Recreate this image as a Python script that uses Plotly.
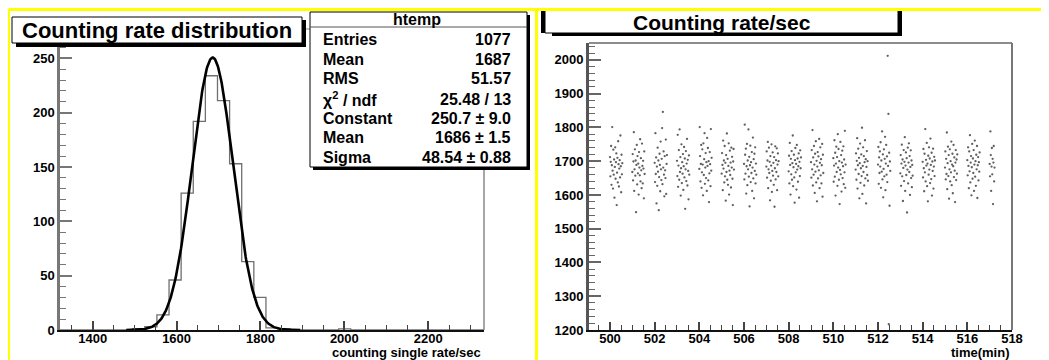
import numpy as np
import plotly.graph_objects as go

# page body has an 8px default margin: the figure is sized/offset to compensate
OFF = 8
W, H = 1049 - OFF, 360 - OFF

# ---------------- Left panel: histogram of counting rate ----------------
hist_x_min = 1322
hist_x_max = 2333
bin_counts = [0, 0, 0, 0, 0, 0, 1, 3, 14, 46, 126, 192, 234, 211, 153, 63, 30, 2, 1,
              0, 0, 0, 0, 1, 0, 0, 0, 0, 0, 0, 0, 0, 0, 0, 0]
left_x_ticks = [1400, 1600, 1800, 2000, 2200]
left_y_ticks = [0, 50, 100, 150, 200, 250]

# fit results shown in the stats box
fit_constant = 250.7
fit_mean = 1686
fit_sigma = 48.54
fit_range = [1480, 1895]

stats_labels = ["Entries", "Mean", "RMS", "χ<sup>2</sup> / ndf", "Constant", "Mean", "Sigma"]
stats_values = ["1077", "1687", "51.57", "25.48 / 13", "250.7 ± 9.0", "1686 ± 1.5", "48.54 ± 0.88"]

# ---------------- Right panel: counting rate vs time ----------------
sample_sec = [0, 1, 2, 3, 4, 5, 6, 7, 8, 9, 10, 11, 12, 13, 14, 15, 16,
              17, 18, 19, 20, 21, 22, 23, 24, 25, 26, 27, 28, 29, 30, 31, 32, 33]

rate_m500 = [1712, 1655, 1698, 1745, 1630, 1688, 1801, 1672, 1619, 1734, 1660, 1705, 1592, 1683, 1741, 1648, 1697,
             1723, 1570, 1666, 1710, 1637, 1759, 1691, 1625, 1678, 1703, 1652, 1776, 1685, 1608, 1719, 1661, 1694]
rate_m501 = [1668, 1721, 1643, 1699, 1786, 1612, 1676, 1735, 1657, 1702, 1549, 1689, 1748, 1631, 1715, 1664, 1693,
             1601, 1727, 1681, 1658, 1765, 1640, 1709, 1673, 1620, 1752, 1686, 1634, 1701, 1678, 1590, 1729, 1662]
rate_m502 = [1695, 1638, 1783, 1662, 1711, 1575, 1684, 1627, 1740, 1669, 1702, 1555, 1653, 1722, 1689, 1611, 1758,
             1676, 1644, 1707, 1798, 1632, 1846, 1681, 1729, 1660, 1596, 1715, 1673, 1650, 1764, 1603, 1692, 1718]
rate_m503 = [1701, 1656, 1778, 1624, 1687, 1733, 1645, 1794, 1668, 1712, 1598, 1679, 1750, 1635, 1697, 1663, 1721,
             1615, 1685, 1742, 1652, 1708, 1559, 1676, 1730, 1641, 1693, 1766, 1628, 1704, 1671, 1587, 1717, 1660]
rate_m504 = [1677, 1801, 1715, 1640, 1692, 1748, 1621, 1667, 1735, 1690, 1599, 1753, 1659, 1706, 1783, 1633, 1681,
             1724, 1650, 1697, 1612, 1769, 1686, 1739, 1643, 1700, 1579, 1664, 1727, 1691, 1626, 1795, 1672, 1710]
rate_m505 = [1663, 1724, 1689, 1614, 1761, 1678, 1702, 1637, 1745, 1655, 1695, 1583, 1718, 1668, 1782, 1645, 1707,
             1630, 1686, 1753, 1601, 1672, 1731, 1659, 1696, 1622, 1740, 1681, 1713, 1648, 1570, 1699, 1736, 1675]
rate_m506 = [1692, 1646, 1808, 1719, 1663, 1737, 1604, 1685, 1751, 1629, 1702, 1676, 1794, 1654, 1713, 1566, 1688,
             1746, 1638, 1697, 1665, 1727, 1612, 1681, 1770, 1649, 1706, 1590, 1722, 1671, 1741, 1634, 1693, 1660]
rate_m507 = [1684, 1729, 1651, 1702, 1757, 1620, 1676, 1740, 1665, 1698, 1584, 1715, 1642, 1687, 1750, 1609, 1671,
             1726, 1657, 1695, 1630, 1712, 1565, 1679, 1744, 1646, 1703, 1668, 1738, 1614, 1690, 1723, 1655, 1700]
rate_m508 = [1670, 1716, 1634, 1754, 1689, 1601, 1707, 1661, 1730, 1645, 1694, 1776, 1626, 1682, 1719, 1652, 1577,
             1703, 1739, 1667, 1692, 1616, 1748, 1675, 1708, 1639, 1685, 1723, 1592, 1698, 1656, 1732, 1679, 1711]
rate_m509 = [1697, 1651, 1733, 1676, 1792, 1628, 1711, 1660, 1745, 1690, 1606, 1722, 1669, 1759, 1637, 1701, 1581,
             1684, 1727, 1649, 1714, 1673, 1766, 1620, 1695, 1741, 1658, 1706, 1634, 1688, 1751, 1595, 1719, 1665]
rate_m510 = [1709, 1639, 1687, 1762, 1654, 1725, 1598, 1693, 1743, 1668, 1712, 1627, 1780, 1681, 1736, 1645, 1700,
             1573, 1674, 1757, 1661, 1718, 1610, 1696, 1731, 1650, 1685, 1744, 1632, 1705, 1667, 1790, 1621, 1690]
rate_m511 = [1675, 1723, 1645, 1701, 1768, 1619, 1688, 1737, 1662, 1710, 1590, 1694, 1752, 1636, 1679, 1720, 1656,
             1799, 1603, 1686, 1741, 1668, 1715, 1628, 1697, 1762, 1649, 1706, 1575, 1683, 1730, 1659, 1700, 1642]
rate_m512 = [1690, 1742, 1633, 1711, 1665, 1729, 1684, 1756, 1621, 1702, 1669, 1788, 1646, 1720, 1593, 1677, 1735,
             1655, 1707, 1772, 1614, 1693, 1748, 1660, 1714, 1638, 2012, 1686, 1840, 1217, 1725, 1568, 1699, 1671]
rate_m513 = [1664, 1718, 1627, 1693, 1749, 1655, 1705, 1582, 1680, 1733, 1641, 1698, 1771, 1612, 1687, 1726, 1659,
             1709, 1548, 1675, 1740, 1634, 1696, 1753, 1668, 1715, 1600, 1683, 1732, 1650, 1702, 1623, 1689, 1657]
rate_m514 = [1698, 1652, 1736, 1679, 1611, 1722, 1667, 1795, 1640, 1704, 1687, 1754, 1626, 1693, 1581, 1716, 1660,
             1741, 1675, 1708, 1635, 1767, 1689, 1647, 1725, 1598, 1699, 1671, 1737, 1619, 1684, 1713, 1656, 1702]
rate_m515 = [1681, 1729, 1646, 1707, 1662, 1785, 1617, 1694, 1743, 1656, 1718, 1589, 1676, 1735, 1640, 1700, 1667,
             1758, 1629, 1690, 1722, 1605, 1685, 1748, 1653, 1711, 1672, 1579, 1696, 1733, 1644, 1705, 1663, 1720]
rate_m516 = [1703, 1658, 1741, 1686, 1620, 1729, 1670, 1777, 1637, 1696, 1715, 1599, 1682, 1751, 1648, 1708, 1665,
             1733, 1612, 1690, 1761, 1654, 1700, 1627, 1719, 1676, 1745, 1591, 1688, 1712, 1643, 1697, 1669, 1726]
rate_m517 = [1692, 1655, 1788, 1718, 1612, 1684, 1739, 1661, 1707, 1573, 1696, 1745, 1640, 1681]

minute_series = [(500, rate_m500), (501, rate_m501), (502, rate_m502), (503, rate_m503), (504, rate_m504),
                 (505, rate_m505), (506, rate_m506), (507, rate_m507), (508, rate_m508), (509, rate_m509),
                 (510, rate_m510), (511, rate_m511), (512, rate_m512), (513, rate_m513), (514, rate_m514),
                 (515, rate_m515), (516, rate_m516), (517, rate_m517)]

right_x_ticks = [500, 502, 504, 506, 508, 510, 512, 514, 516, 518]
right_y_ticks = [1200, 1300, 1400, 1500, 1600, 1700, 1800, 1900, 2000]

# ---------------- helpers (reference pixel -> paper) ----------------
def px(x):
    return (x - OFF) / W

def py(y):
    return 1 - (y - OFF) / H

FONT = "Liberation Sans, Arial, Helvetica, sans-serif"

# ---------------- build traces ----------------
nb = len(bin_counts)
bw = (hist_x_max - hist_x_min) / nb
edges = [hist_x_min + i * bw for i in range(nb + 1)]
step_x = edges[:-1] + [edges[-1]]
step_y = bin_counts + [bin_counts[-1]]

fit_x = np.linspace(fit_range[0], fit_range[1], 300)
fit_y = fit_constant * np.exp(-0.5 * ((fit_x - fit_mean) / fit_sigma) ** 2)

fig = go.Figure()
fig.add_trace(go.Scatter(x=step_x, y=step_y, mode="lines", line=dict(shape="hv", color="#707070", width=1.3),
                         xaxis="x", yaxis="y", showlegend=False, hoverinfo="skip"))
fig.add_trace(go.Scatter(x=fit_x, y=fit_y, mode="lines", line=dict(color="#000000", width=2.6),
                         xaxis="x", yaxis="y", showlegend=False, hoverinfo="skip"))

tx, ty = [], []
for minute, vals in minute_series:
    for s, v in zip(sample_sec, vals):
        tx.append(minute + s / 60.0)
        ty.append(v)
fig.add_trace(go.Scatter(x=tx, y=ty, mode="markers",
                         marker=dict(size=2.3, color="rgba(40,40,40,0.75)", line=dict(width=0)),
                         xaxis="x2", yaxis="y2", showlegend=False, hoverinfo="skip"))

tickfont = dict(family=FONT, size=13, color="black", weight="bold")

common_axis = dict(showgrid=False, zeroline=False, showline=True, ticks="inside",
                   tickfont=tickfont, fixedrange=True)

fig.update_layout(
    width=W, height=H,
    margin=dict(l=0, r=0, t=0, b=0, autoexpand=False),
    paper_bgcolor="white", plot_bgcolor="white",
    showlegend=False,
    xaxis=dict(domain=[px(60), px(484)], range=[hist_x_min, hist_x_max], anchor="y",
               tickmode="array", tickvals=left_x_ticks, ticktext=[str(v) for v in left_x_ticks],
               linecolor="#111111", linewidth=2, ticklen=9, tickwidth=1.5, tickcolor="#444444",
               ticklabelstandoff=-5,
               minor=dict(ticks="inside", dtick=50, tick0=1400, ticklen=5, tickwidth=1.3, tickcolor="#444444"),
               **common_axis),
    yaxis=dict(domain=[py(330), py(29)], range=[0, 277], anchor="x",
               tickmode="array", tickvals=left_y_ticks, ticktext=[str(v) for v in left_y_ticks],
               linecolor="#777777", linewidth=2.5, ticklen=12, tickwidth=1.5, tickcolor="#777777",
               minor=dict(ticks="inside", dtick=10, tick0=0, ticklen=6, tickwidth=1.3, tickcolor="#777777"),
               **common_axis),
    xaxis2=dict(domain=[px(589), px(1012)], range=[499.06, 518], anchor="y2",
                tickmode="array", tickvals=right_x_ticks, ticktext=[str(v) for v in right_x_ticks],
                linecolor="#111111", linewidth=2, ticklen=8, tickwidth=1.5, tickcolor="#444444",
                ticklabelstandoff=-5,
                minor=dict(ticks="inside", dtick=0.5, tick0=500, ticklen=5, tickwidth=1.3, tickcolor="#444444"),
                **common_axis),
    yaxis2=dict(domain=[py(330), py(43)], range=[1200, 2050], anchor="x2",
                tickmode="array", tickvals=right_y_ticks, ticktext=[str(v) for v in right_y_ticks],
                linecolor="#555555", linewidth=3, ticklen=12, tickwidth=1.5, tickcolor="#666666",
                minor=dict(ticks="inside", dtick=20, tick0=1200, ticklen=6, tickwidth=1.3, tickcolor="#666666"),
                **common_axis),
)

shapes = []

def rect(x0, y0, x1, y1, fill=None, line_color=None, lw=1):
    shapes.append(dict(type="rect", xref="paper", yref="paper",
                       x0=px(x0), x1=px(x1), y0=py(y1), y1=py(y0),
                       fillcolor=fill if fill else "rgba(0,0,0,0)",
                       line=dict(color=line_color if line_color else "rgba(0,0,0,0)", width=lw if line_color else 0),
                       layer="above"))

def line(x0, y0, x1, y1, color, width):
    shapes.append(dict(type="line", xref="paper", yref="paper",
                       x0=px(x0), x1=px(x1), y0=py(y0), y1=py(y1),
                       line=dict(color=color, width=width), layer="above"))

# frame lines (top/right)
line(60, 29, 484, 29, "#888888", 1.2)
line(484, 29, 484, 330, "#888888", 1.5)
line(589, 43, 1012, 43, "#666666", 1.5)
line(1012, 43, 1012, 330, "#777777", 2)

# left title box with shadow
rect(16, 43, 306, 47, fill="black")
rect(302, 20, 306, 47, fill="black")
rect(12, 17, 302, 43, fill="white", line_color="black", lw=1)

# right title box with shadow
rect(552, 32, 902, 36, fill="black")
rect(898, 10, 902, 36, fill="black")
rect(545, 8, 898, 33, fill="white", line_color="black", lw=1)
rect(541, 10, 545, 33, fill="black")

# stats box with shadow
rect(313, 167, 530, 170, fill="black")
rect(527, 15, 530, 170, fill="black")
rect(310, 12, 527, 167, fill="white", line_color="black", lw=1)
line(310, 27, 527, 27, "#555555", 1)

# yellow pad borders
line(8.5, 9.5, 1049, 9.5, "#ffff00", 3)
line(8.5, 9.5, 8.5, 360, "#ffff00", 3)
line(536.5, 9.5, 536.5, 360, "#ffff00", 3)

fig.update_layout(shapes=shapes)

ann = []

def text(x, y, s, size, xanchor="center", weight="bold"):
    ann.append(dict(xref="paper", yref="paper", x=px(x), y=py(y), text=s, showarrow=False,
                    xanchor=xanchor, yanchor="middle",
                    font=dict(family=FONT, size=size, color="black", weight=weight)))

text(157, 30, "Counting rate distribution", 22)
text(722, 22, "Counting rate/sec", 21)
text(417, 20, "htemp", 16)

row_y = [39.5, 59, 79, 99, 118, 137.5, 157]
for yy, lab, val in zip(row_y, stats_labels, stats_values):
    text(321, yy, lab, 16, xanchor="left")
    text(513, yy, val, 16, xanchor="right")

text(483, 352.5, "counting single rate/sec", 13, xanchor="right")
text(1012, 352.5, "time(min)", 13, xanchor="right")

fig.update_layout(annotations=ann)

fig.write_html("out.html")
